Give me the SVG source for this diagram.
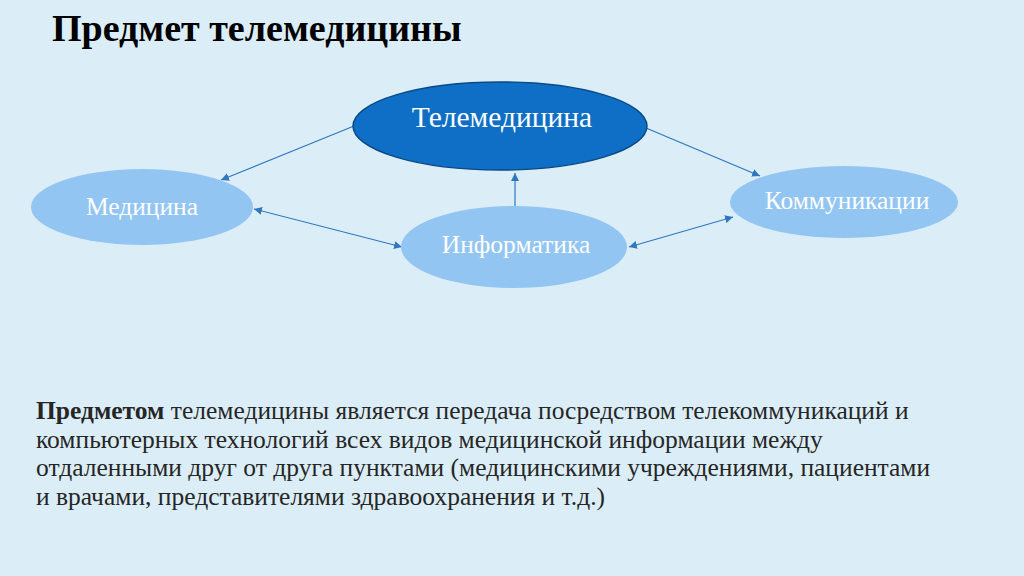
<svg xmlns="http://www.w3.org/2000/svg" width="1024" height="576" viewBox="0 0 1024 576">
<defs>
<style>
.t{font-family:"Liberation Serif","Times New Roman",serif;fill:#ffffff;text-anchor:middle}
.body{font-family:"Liberation Serif","Times New Roman",serif;fill:#262626;font-size:25.5px}
.c{stroke:#2f78c0;stroke-width:1.2;fill:none}
.light{fill:#93c5f3}
</style>
<marker id="ah" viewBox="0 0 10 10" refX="10" refY="5" markerWidth="8" markerHeight="8" markerUnits="userSpaceOnUse" orient="auto-start-reverse">
<path d="M0,0 L10,5 L0,10 z" fill="#2f78c0"/>
</marker>
</defs>
<rect width="1024" height="576" fill="#dbeef8"/>
<text x="52" y="41" font-family="Liberation Serif,Times New Roman,serif" font-weight="bold" font-size="38" fill="#000">Предмет телемедицины</text>
<g id="connectors">
<line class="c" x1="354" y1="126" x2="221" y2="180" marker-end="url(#ah)"/>
<line class="c" x1="646" y1="128" x2="760" y2="176" marker-end="url(#ah)"/>
<line class="c" x1="515" y1="207" x2="515" y2="173" marker-end="url(#ah)"/>
<line class="c" x1="254" y1="209" x2="402" y2="247" marker-start="url(#ah)" marker-end="url(#ah)"/>
<line class="c" x1="629" y1="247" x2="733" y2="217" marker-start="url(#ah)" marker-end="url(#ah)"/>
</g>
<g id="telemedicina">
<ellipse cx="500" cy="126" rx="147" ry="44" fill="#0f6fc6" stroke="#0a4a86" stroke-width="1.5"/>
<text class="t" x="502" y="127" font-size="29.5">Телемедицина</text>
</g>
<g id="medicina">
<ellipse class="light" cx="142" cy="207" rx="111" ry="38"/>
<text class="t" x="142" y="215" font-size="25.5">Медицина</text>
</g>
<g id="informatika">
<ellipse class="light" cx="514" cy="247" rx="113" ry="41"/>
<text class="t" x="516" y="253" font-size="25.5">Информатика</text>
</g>
<g id="kommunikacii">
<ellipse class="light" cx="844" cy="202" rx="114" ry="36"/>
<text class="t" x="847" y="209" font-size="25.5">Коммуникации</text>
</g>
<g id="description">
<text class="body" x="36" y="419"><tspan font-weight="bold">Предметом</tspan> телемедицины является передача посредством телекоммуникаций и</text>
<text class="body" x="36" y="448">компьютерных технологий всех видов медицинской информации между</text>
<text class="body" x="36" y="476">отдаленными друг от друга пунктами (медицинскими учреждениями, пациентами</text>
<text class="body" x="36" y="505">и врачами, представителями здравоохранения и т.д.)</text>
</g>
</svg>
